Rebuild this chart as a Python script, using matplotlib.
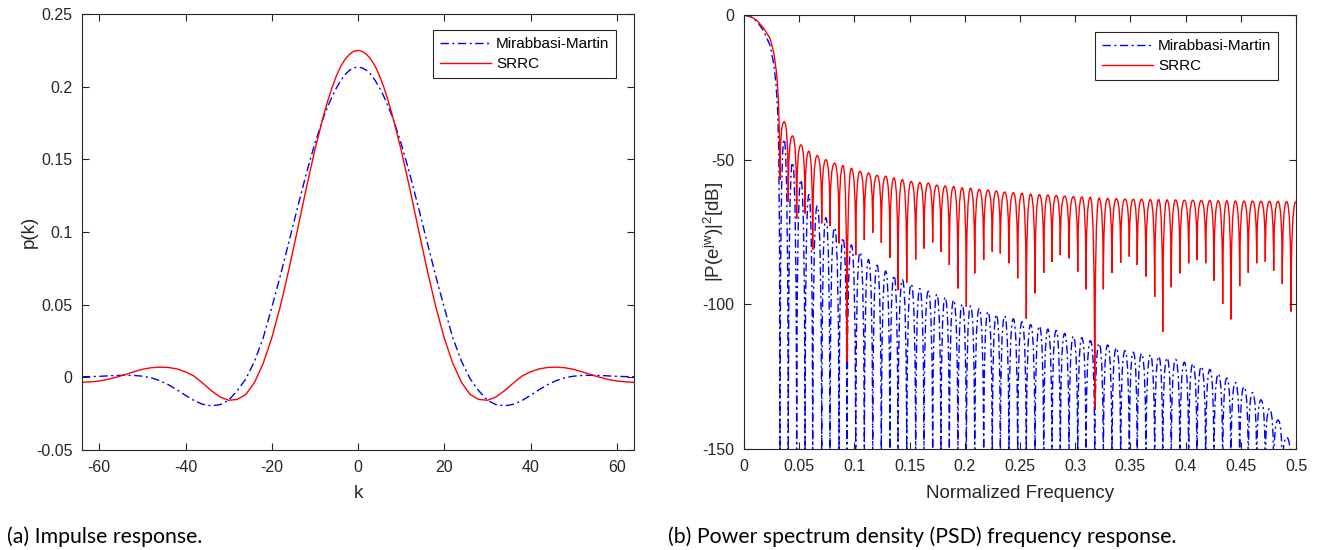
import matplotlib

matplotlib.use("Agg")
import matplotlib.pyplot as plt
from matplotlib.lines import Line2D
from matplotlib.patches import PathPatch
from matplotlib.path import Path

plt.rcParams["font.family"] = ["Liberation Sans", "DejaVu Sans"]
plt.rcParams["axes.unicode_minus"] = False
plt.rcParams["mathtext.default"] = "regular"

AX_COLOR = "#262626"
BLUE = "#0000ff"
RED = "#ff0000"
DASHDOT = (0, (6, 2.5, 1.5, 2.5))

# ---- (a) impulse response ----
K = [-64, -62, -60, -58, -56, -54, -52, -50, -48, -46, -44, -42, -40, -38, -36, -34,
     -32, -30, -28, -26, -24, -22, -20, -18, -16, -14, -12, -10,
     -8, -7, -6, -5, -4, -3, -2, -1, 0, 1, 2, 3, 4, 5, 6, 7, 8,
     10, 12, 14, 16, 18, 20, 22, 24, 26, 28, 30, 32,
     34, 36, 38, 40, 42, 44, 46, 48, 50, 52, 54, 56, 58, 60, 62, 64]
P_SRRC = [-0.0034, -0.0031, -0.0025, -0.0014, 0.0001, 0.0019, 0.0038, 0.0055, 0.0066,
          0.0070, 0.0068, 0.0058, 0.0038, 0.0008, -0.0040, -0.0092, -0.0135, -0.0158,
          -0.0152, -0.0118, -0.0035, 0.0095, 0.0270, 0.0490, 0.0745, 0.1020, 0.1300,
          0.1565,
          0.1800, 0.1903, 0.1995, 0.2075, 0.2140, 0.2188, 0.2222, 0.2243, 0.2250,
          0.2243, 0.2222, 0.2188, 0.2140, 0.2075, 0.1995, 0.1903, 0.1800,
          0.1565, 0.1300, 0.1020, 0.0745, 0.0490,
          0.0270, 0.0095, -0.0035, -0.0118, -0.0152, -0.0158, -0.0135, -0.0092,
          -0.0040, 0.0008, 0.0038, 0.0058, 0.0068, 0.0070, 0.0066, 0.0055, 0.0038,
          0.0019, 0.0001, -0.0014, -0.0025, -0.0031, -0.0034]
P_MM = [0.0004, 0.0005, 0.0007, 0.0010, 0.0013, 0.0014, 0.0013, 0.0008, -0.0003,
        -0.0022, -0.0050, -0.0085, -0.0124, -0.0160, -0.0186, -0.0196, -0.0188,
        -0.0158, -0.0092, -0.0010, 0.0110, 0.0270, 0.0480, 0.0700, 0.0935, 0.1170,
        0.1400, 0.1610,
        0.1790, 0.1864, 0.1932, 0.1992, 0.2042, 0.2083, 0.2112, 0.2129, 0.2135,
        0.2129, 0.2112, 0.2083, 0.2042, 0.1992, 0.1932, 0.1864, 0.1790,
        0.1610, 0.1400, 0.1170, 0.0935, 0.0700,
        0.0480, 0.0270, 0.0110, -0.0010, -0.0092, -0.0158, -0.0188, -0.0196,
        -0.0186, -0.0160, -0.0124, -0.0085, -0.0050, -0.0022, -0.0003, 0.0008,
        0.0013, 0.0014, 0.0013, 0.0010, 0.0007, 0.0005, 0.0004]

# ---- (b) PSD ----
# main lobe samples (normalized frequency, dB)
SRRC_MAIN_F = [0.0, 0.006, 0.012, 0.0177, 0.0236, 0.027, 0.0295, 0.031, 0.032, 0.0326]
SRRC_MAIN_DB = [0.0, -0.5, -2.0, -4.5, -8.1, -13.0, -20.0, -28.0, -40.0, -57.0]
MM_MAIN_F = [0.0, 0.006, 0.012, 0.0177, 0.0236, 0.027, 0.029, 0.0305, 0.0315, 0.0322, 0.0326]
MM_MAIN_DB = [0.0, -0.6, -2.3, -5.5, -10.5, -17.0, -24.0, -33.0, -48.0, -80.0, -160.0]

# sidelobe nulls (shared by both filters)
NULL_F = [0.0326, 0.0401, 0.0477, 0.0553, 0.0622, 0.0704, 0.0779, 0.0861, 0.0933, 0.1012,
          0.1090, 0.1166, 0.1244, 0.1322, 0.1395, 0.1474, 0.1555, 0.1630, 0.1709, 0.1784,
          0.1860, 0.1938, 0.2014, 0.2090, 0.2171, 0.2249, 0.2322, 0.2400, 0.2479, 0.2557,
          0.2636, 0.2715, 0.2790, 0.2865, 0.2944, 0.3023, 0.3098, 0.3177, 0.3255, 0.3333,
          0.3412, 0.3490, 0.3562, 0.3641, 0.3720, 0.3793, 0.3870, 0.3949, 0.4028, 0.4103,
          0.4182, 0.4257, 0.4336, 0.4411, 0.4490, 0.4568, 0.4644, 0.4722, 0.4798, 0.4876,
          0.4955]
SRRC_NULL_DB = [-57.0, -64.5, -70.3, -68.6, -81.2, -72.0, -72.9, -78.9, -119.8, -83.0,
                -77.8, -75.2, -78.7, -83.9, -95.1, -92.5, -84.5, -80.7, -78.6, -81.8,
                -86.4, -94.5, -100.8, -89.3, -84.7, -81.8, -82.4, -85.8, -91.0, -104.9,
                -96.2, -89.1, -85.3, -83.0, -84.1, -88.7, -94.8, -136.0, -94.8, -89.1,
                -85.6, -83.5, -86.4, -90.4, -97.4, -109.5, -94.1, -89.3, -85.8, -84.7,
                -85.8, -91.8, -99.9, -105.2, -93.7, -89.1, -85.8, -85.3, -88.4, -93.0,
                -102.5]
SRRC_PEAK_DB = [-36.9, -41.8, -44.9, -47.1, -48.6, -50.0, -51.2, -52.0, -53.0, -54.0,
                -54.6, -55.4, -55.7, -56.3, -56.9, -57.5, -57.9, -58.1, -58.8, -59.1,
                -59.3, -59.7, -59.9, -60.3, -60.5, -60.8, -61.2, -61.4, -61.6, -61.9,
                -62.1, -62.2, -62.4, -62.6, -62.8, -62.9, -63.0, -63.3, -63.4, -63.5,
                -63.6, -63.7, -63.7, -63.8, -63.8, -63.9, -63.9, -64.0, -64.0, -64.1,
                -64.1, -64.2, -64.2, -64.3, -64.3, -64.3, -64.4, -64.4, -64.4, -64.5]
SRRC_END_DB = -64.5
MM_PEAK_DB = [-43.0, -51.0, -57.0, -62.0, -66.0, -70.0, -73.5, -77.0, -79.5, -82.0,
              -84.5, -86.5, -88.5, -90.0, -91.5, -93.0, -94.5, -95.5, -96.5, -97.5,
              -98.5, -100.0, -100.5, -101.5, -102.5, -103.5, -104.0, -105.0, -106.0, -107.0,
              -107.5, -108.5, -109.0, -110.0, -111.0, -111.5, -112.5, -113.5, -114.0, -115.0,
              -116.0, -116.5, -117.0, -117.5, -118.0, -118.5, -119.0, -120.0, -120.5, -121.5,
              -122.5, -124.0, -125.5, -127.0, -128.5, -130.5, -133.0, -136.0, -140.0, -146.0]
MM_NULL_DB = -160.0  # nulls of this filter fall below the axis floor
MM_END_DB = -160.0


def lobe_path(main_f, main_db, null_db, peak_db, end_db):
    """Main lobe as a polyline, each sidelobe as a quadratic arch null->peak->null."""
    verts = list(zip(main_f, main_db))
    codes = [Path.MOVETO] + [Path.LINETO] * (len(main_f) - 1)
    for i, peak in enumerate(peak_db):
        f0, f1 = NULL_F[i], NULL_F[i + 1]
        verts += [(f0, peak), ((f0 + f1) / 2, peak), (f1, peak), (f1, null_db[i + 1])]
        codes += [Path.CURVE3] * 4
    verts += [(NULL_F[-1], end_db), (0.5, end_db)]
    codes += [Path.CURVE3] * 2
    return Path(verts, codes)


def style_axes(ax):
    ax.tick_params(direction="in", top=True, right=True, length=5, width=0.8,
                   colors=AX_COLOR, labelsize=11.5, pad=7)
    for spine in ax.spines.values():
        spine.set_color(AX_COLOR)
        spine.set_linewidth(0.8)


fig = plt.figure(figsize=(13.19, 5.5), dpi=100)
ax1 = fig.add_axes([82 / 1319, 100 / 550, 552 / 1319, 436 / 550])
ax2 = fig.add_axes([744 / 1319, 101 / 550, 552 / 1319, 434 / 550])

# (a)
ax1.plot(K, P_MM, color=BLUE, linewidth=1.0, linestyle=DASHDOT, label="Mirabbasi-Martin")
ax1.plot(K, P_SRRC, color=RED, linewidth=1.0, label="SRRC")
ax1.set_xlim(-64, 64)
ax1.set_ylim(-0.05, 0.25)
ax1.set_xticks([-60, -40, -20, 0, 20, 40, 60])
ax1.set_yticks([-0.05, 0, 0.05, 0.1, 0.15, 0.2, 0.25])
ax1.set_yticklabels(["-0.05", "0", "0.05", "0.1", "0.15", "0.2", "0.25"])
ax1.set_xlabel("k", fontsize=13.5, color=AX_COLOR)
ax1.set_ylabel("p(k)", fontsize=13.5, color=AX_COLOR)
ax1.xaxis.set_label_coords(0.5, -35 / 436)
ax1.yaxis.set_label_coords(-44 / 552, 0.5)
style_axes(ax1)

# (b)
ax2.add_patch(PathPatch(lobe_path(MM_MAIN_F, MM_MAIN_DB, [MM_NULL_DB] * len(NULL_F),
                                  MM_PEAK_DB, MM_END_DB),
                        fill=False, edgecolor=BLUE, linewidth=1.0, linestyle=DASHDOT))
ax2.add_patch(PathPatch(lobe_path(SRRC_MAIN_F, SRRC_MAIN_DB, SRRC_NULL_DB,
                                  SRRC_PEAK_DB, SRRC_END_DB),
                        fill=False, edgecolor=RED, linewidth=1.0))
ax2.set_xlim(0, 0.5)
ax2.set_ylim(-150, 0)
ax2.set_xticks([0, 0.05, 0.1, 0.15, 0.2, 0.25, 0.3, 0.35, 0.4, 0.45, 0.5])
ax2.set_xticklabels(["0", "0.05", "0.1", "0.15", "0.2", "0.25", "0.3", "0.35",
                     "0.4", "0.45", "0.5"])
ax2.set_yticks([-150, -100, -50, 0])
ax2.set_xlabel("Normalized Frequency", fontsize=13.5, color=AX_COLOR)
ax2.set_ylabel(r"$|P(e^{jw})|^2$[dB]", fontsize=13.5, color=AX_COLOR)
ax2.xaxis.set_label_coords(0.5, -36 / 434)
ax2.yaxis.set_label_coords(-18 / 552, 0.5)
style_axes(ax2)

handles = [Line2D([], [], color=BLUE, linewidth=1.0, linestyle=DASHDOT),
           Line2D([], [], color=RED, linewidth=1.0)]
names = ["Mirabbasi-Martin", "SRRC"]
for ax, top in ((ax1, (450 - 30) / 436), (ax2, (449 - 32) / 434)):
    leg = ax.legend(handles, names, loc="upper right", bbox_to_anchor=(0.968, top),
                    borderaxespad=0, fontsize=11, fancybox=False, framealpha=1,
                    edgecolor=AX_COLOR, handlelength=3.3, handletextpad=0.35,
                    borderpad=0.45, labelspacing=0.4)
    leg.get_frame().set_linewidth(0.8)

fig.text(7 / 1319, 1 - 537 / 550, "(a) Impulse response.", family=["Lato", "DejaVu Sans"],
         fontsize=15.3, va="center", ha="left")
fig.text(668 / 1319, 1 - 537 / 550, "(b) Power spectrum density (PSD) frequency response.",
         family=["Lato", "DejaVu Sans"], fontsize=15.3, va="center", ha="left")

fig.savefig("out.png", dpi=100)
